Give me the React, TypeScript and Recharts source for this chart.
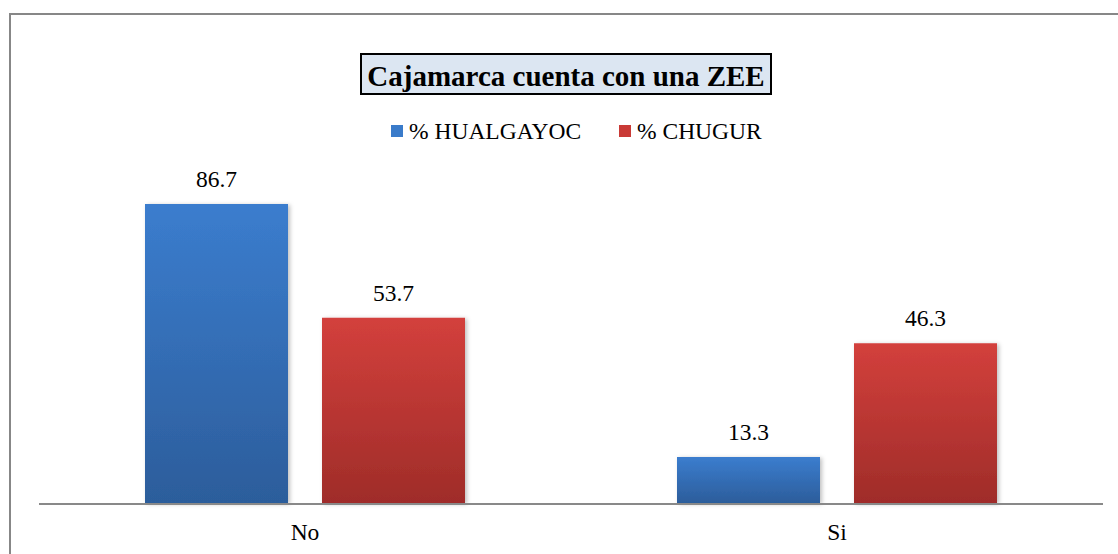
import React from 'react';
import { BarChart, Bar, XAxis, YAxis, LabelList } from 'recharts';

const categories = ['No', 'Si'];
const hualgayoc = [86.7, 13.3];
const chugur = [53.7, 46.3];
const seriesNames = ['% HUALGAYOC', '% CHUGUR'];
const titleText = 'Cajamarca cuenta con una ZEE';

const data = categories.map((c, i) => ({ name: c, h: hualgayoc[i], c: chugur[i] }));

const FONT = 'Liberation Serif, Times New Roman, serif';
const FS = 23.5;

const legendItems = [
  { label: seriesNames[0], color: '#3a7bca', x: 391 },
  { label: seriesNames[1], color: '#c93a36', x: 619 },
];

const renderValueLabel = (props: any) => {
  const { x, y, width, value } = props;
  return (
    <text
      x={Number(x) + Number(width) / 2}
      y={Number(y) - 17}
      textAnchor="middle"
      fontFamily={FONT}
      fontSize={FS}
      fill="#000"
    >
      {value}
    </text>
  );
};

export default function App() {
  return (
    <div style={{ position: 'absolute', left: 0, top: 0, width: 1118, height: 554, overflow: 'hidden', background: '#fff' }}>
      <div style={{ position: 'absolute', left: 0, top: 0 }}>
        <BarChart
          width={1118}
          height={554}
          data={data}
          margin={{ top: 158, right: 15, bottom: 21, left: 39 }}
          barSize={143}
          barGap={34}
        >
          <defs>
            <linearGradient id="gBlue" x1="0" y1="0" x2="0" y2="1">
              <stop offset="0%" stopColor="#3b7dce" />
              <stop offset="100%" stopColor="#2c5d9b" />
            </linearGradient>
            <linearGradient id="gRed" x1="0" y1="0" x2="0" y2="1">
              <stop offset="0%" stopColor="#d3403c" />
              <stop offset="100%" stopColor="#9f2c29" />
            </linearGradient>
            <filter id="shadow" x="-10%" y="-10%" width="130%" height="130%">
              <feDropShadow dx="2" dy="1" stdDeviation="2" floodColor="#000" floodOpacity="0.25" />
            </filter>
          </defs>
          <YAxis hide domain={[0, 100]} />
          <XAxis
            dataKey="name"
            height={30}
            tickLine={false}
            tickSize={0}
            tickMargin={20}
            axisLine={{ stroke: '#898989', strokeWidth: 2, transform: 'translate(0,1)' }}
            tick={{ fill: '#000', fontFamily: FONT, fontSize: FS }}
          />
          <Bar dataKey="h" name={seriesNames[0]} fill="url(#gBlue)" filter="url(#shadow)" isAnimationActive={false}>
            <LabelList dataKey="h" content={renderValueLabel} />
          </Bar>
          <Bar dataKey="c" name={seriesNames[1]} fill="url(#gRed)" filter="url(#shadow)" isAnimationActive={false}>
            <LabelList dataKey="c" content={renderValueLabel} />
          </Bar>
        </BarChart>
      </div>
      <svg width={1118} height={554} style={{ position: 'absolute', left: 0, top: 0, pointerEvents: 'none' }}>
        <rect x={10} y={14} width={1200} height={700} fill="none" stroke="#878787" strokeWidth={2} />
        <rect x={361} y={54} width={410} height={40} fill="#dce6f2" stroke="#000" strokeWidth={2} />
        <text x={566} y={86} textAnchor="middle" fontFamily={FONT} fontWeight="bold" fontSize={29} fill="#000">
          {titleText}
        </text>
        {legendItems.map((it, i) => (
          <g key={i}>
            <rect x={it.x} y={125} width={12} height={12} fill={it.color} />
            <text x={it.x + 18} y={139} fontFamily={FONT} fontSize={FS} fill="#000">
              {it.label}
            </text>
          </g>
        ))}
      </svg>
    </div>
  );
}
